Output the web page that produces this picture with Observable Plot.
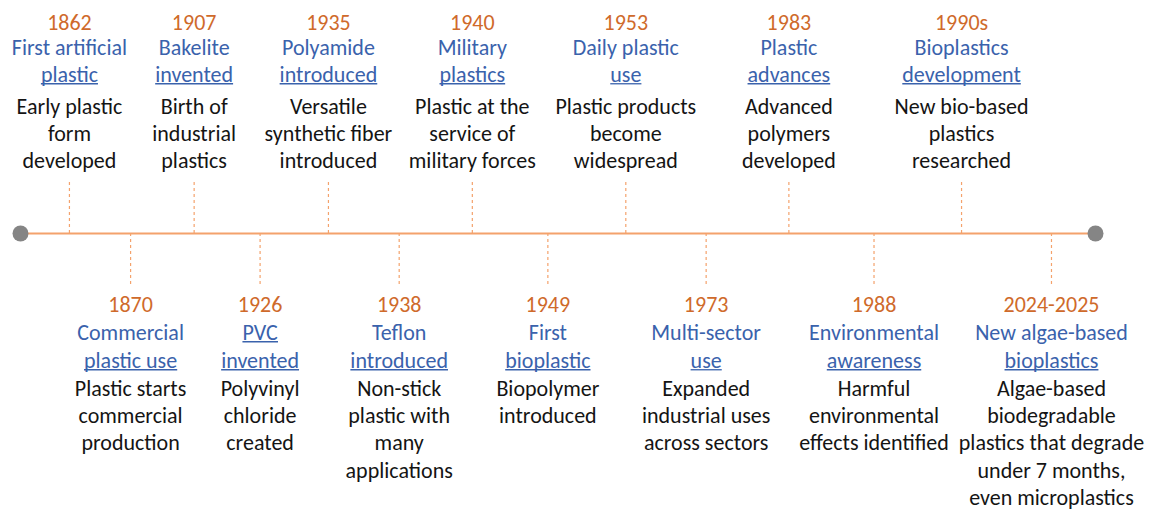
<!DOCTYPE html>
<html>
<head>
<meta charset="utf-8">
<script src="https://cdn.jsdelivr.net/npm/d3@7"></script>
<script src="https://cdn.jsdelivr.net/npm/@observablehq/plot@0.6"></script>
<style>
  html, body { margin: 0; padding: 0; background: #fff; }
  #chart svg { display: block; }
</style>
</head>
<body>
<div id="chart"></div>
<script>
// ---- data ----
const years = ["1862", "1870", "1907", "1926", "1935", "1938", "1940", "1949", "1953", "1973", "1983", "1988", "1990s", "2024-2025"];
const titles = [
  "First artificial\nplastic",
  "Commercial\nplastic use",
  "Bakelite\ninvented",
  "PVC\ninvented",
  "Polyamide\nintroduced",
  "Teflon\nintroduced",
  "Military\nplastics",
  "First\nbioplastic",
  "Daily plastic\nuse",
  "Multi-sector\nuse",
  "Plastic\nadvances",
  "Environmental\nawareness",
  "Bioplastics\ndevelopment",
  "New algae-based\nbioplastics"
];
const descriptions = [
  "Early plastic\nform\ndeveloped",
  "Plastic starts\ncommercial\nproduction",
  "Birth of\nindustrial\nplastics",
  "Polyvinyl\nchloride\ncreated",
  "Versatile\nsynthetic fiber\nintroduced",
  "Non-stick\nplastic with\nmany\napplications",
  "Plastic at the\nservice of\nmilitary forces",
  "Biopolymer\nintroduced",
  "Plastic products\nbecome\nwidespread",
  "Expanded\nindustrial uses\nacross sectors",
  "Advanced\npolymers\ndeveloped",
  "Harmful\nenvironmental\neffects identified",
  "New bio-based\nplastics\nresearched",
  "Algae-based\nbiodegradable\nplastics that degrade\nunder 7 months,\neven microplastics"
];

// ---- table built from the arrays ----
const events = years.map((year, i) => {
  const [t1, t2] = titles[i].split("\n");
  return { order: i, year, t1, t2, desc: descriptions[i], side: i % 2 === 0 ? 1 : -1 };
});
const upperEvents = events.filter(d => d.side === 1);
const lowerEvents = events.filter(d => d.side === -1);

// ---- styling ----
const ORANGE_TEXT = "#CF6A2B";
const ORANGE_LINE = "#F4A26C";
const BLUE = "#3A62AC";
const INK = "#141414";
const FONT = "Carlito, Lato, 'Open Sans', sans-serif";
const FS = 22;
const LH = 1.24;
const OFFSET = 25;            // timeline stretches slightly toward later events
const xDomain = [24.17, 38.48];
const X = d => d.order + OFFSET;

const txt = (data, field, dy, color, extra = {}) =>
  Plot.text(data, {
    x: X, y: "side", text: field, dy, fill: color,
    fontSize: FS, fontFamily: FONT, textAnchor: "middle",
    lineAnchor: "middle", ...extra
  });

const chart = Plot.plot({
  width: 1149,
  height: 510,
  marginLeft: 20,
  marginRight: 54,
  marginTop: 181,
  marginBottom: 225,
  x: { type: "pow", exponent: 2, domain: xDomain, axis: null },
  y: { domain: [-1, 1], axis: null },
  style: { background: "#fff", overflow: "visible" },
  marks: [
    Plot.ruleY([0], { stroke: ORANGE_LINE, strokeWidth: 2 }),
    Plot.ruleX(events, { x: X, y1: 0, y2: "side", stroke: ORANGE_LINE, strokeWidth: 1.2, strokeDasharray: "3,3" }),
    Plot.dot(xDomain, { x: d => d, y: () => 0, r: 8, fill: "#858585", stroke: "none" }),
    // upper side
    txt(upperEvents, "year", -159, ORANGE_TEXT),
    txt(upperEvents, "t1", -134, BLUE),
    txt(upperEvents, "t2", -107, BLUE),
    txt(upperEvents, "desc", -87, INK, { lineAnchor: "top", lineHeight: LH }),
    // lower side
    txt(lowerEvents, "year", 19, ORANGE_TEXT),
    txt(lowerEvents, "t1", 47, BLUE),
    txt(lowerEvents, "t2", 75, BLUE),
    txt(lowerEvents, "desc", 91, INK, { lineAnchor: "top", lineHeight: LH })
  ]
});

document.getElementById("chart").append(chart);

// underline the hyperlink-style titles (last title line; PVC fully)
const underlined = new Set(events.map(d => d.t2).concat(["PVC"]));
d3.select(chart).selectAll("text")
  .filter(function () {
    const g = this.parentNode;
    return g && g.getAttribute("fill") === BLUE && underlined.has(this.textContent);
  })
  .each(function () {
    const b = this.getBBox();
    const uy = b.y + b.height * 0.86;
    d3.select(this.parentNode).append("line")
      .attr("transform", this.getAttribute("transform"))
      .attr("x1", b.x).attr("x2", b.x + b.width)
      .attr("y1", uy).attr("y2", uy)
      .attr("stroke", BLUE).attr("stroke-width", 1.3);
  });
</script>
</body>
</html>
